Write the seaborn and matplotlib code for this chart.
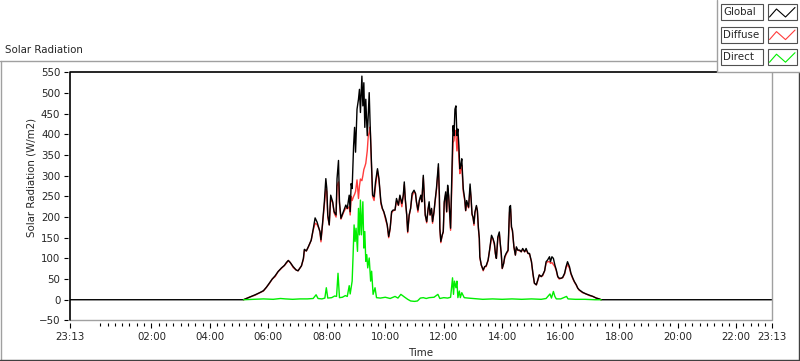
import numpy as np
import pandas as pd
import matplotlib
matplotlib.use("Agg")
import matplotlib.pyplot as plt
from matplotlib.lines import Line2D
from matplotlib.patches import Rectangle
import seaborn as sns

# time axis in minutes after midnight; window is 23:13 (day before) to 23:13
t_start, t_end = -47, 1393

times = [-47, 309, 313, 317, 323, 333, 344, 350, 356, 362, 368, 374, 380, 387, 393, 397,
         401, 405, 411, 417, 421, 428, 432, 434, 438, 442, 448, 452, 456, 460, 464, 466,
         468, 471, 475, 478, 480, 482, 485, 488, 492, 495, 499, 501, 504, 506, 509, 514,
         519, 522, 526, 528, 530, 532, 535, 537, 539, 542, 545, 547, 549, 552, 554, 556,
         558, 560, 563, 565, 567, 569, 572, 574, 577, 580, 584, 587, 591, 594, 597, 601,
         604, 607, 610, 613, 616, 620, 623, 627, 630, 634, 637, 639, 641, 644, 646, 649,
         652, 655, 659, 662, 664, 667, 670, 673, 675, 678, 680, 682, 685, 688, 690, 692,
         695, 697, 700, 702, 705, 709, 711, 712, 714, 717, 719, 721, 724, 726, 728, 730,
         732, 734, 737, 739, 741, 743, 745, 747, 749, 751, 753, 755, 757, 760, 763, 765,
         767, 771, 774, 776, 778, 780, 782, 784, 787, 789, 791, 793, 794, 797, 801, 804,
         807, 811, 814, 818, 821, 824, 826, 828, 831, 834, 836, 838, 840, 843, 845, 848,
         852, 855, 857, 859, 861, 864, 867, 869, 872, 876, 879, 882, 886, 889, 893, 896,
         900, 903, 906, 910, 913, 916, 920, 923, 927, 930, 933, 937, 939, 942, 945, 948,
         951, 954, 957, 961, 964, 968, 971, 974, 978, 981, 985, 988, 992, 995, 998, 1005,
         1012, 1019, 1026, 1033, 1039, 1043, 1393]

global_wm2 = [0, 0, 2, 4, 7, 12, 18, 22, 30, 40, 50, 58, 68, 77, 83, 90,
              95, 90, 80, 72, 70, 82, 100, 122, 118, 128, 144, 170, 198, 188, 172, 165,
              145, 181, 237, 293, 269, 205, 181, 253, 237, 213, 205, 293, 337, 237, 197, 213,
              229, 221, 253, 213, 281, 269, 373, 417, 357, 461, 485, 509, 453, 541, 469, 525,
              417, 485, 397, 445, 501, 421, 317, 253, 249, 285, 317, 293, 237, 221, 213, 197,
              181, 153, 173, 213, 217, 217, 245, 229, 253, 233, 253, 285, 245, 205, 165, 205,
              221, 257, 265, 257, 237, 217, 241, 253, 237, 301, 253, 205, 189, 221, 237, 205,
              221, 189, 213, 237, 269, 329, 253, 173, 141, 157, 165, 237, 261, 213, 277, 253,
              213, 173, 317, 421, 397, 461, 469, 397, 413, 373, 317, 325, 341, 269, 244, 216,
              240, 224, 280, 248, 208, 200, 184, 212, 228, 216, 176, 148, 104, 84, 72, 80,
              82, 96, 120, 156, 148, 136, 112, 100, 152, 164, 136, 112, 76, 88, 104, 112,
              120, 224, 228, 176, 168, 128, 108, 128, 120, 120, 116, 124, 116, 124, 112, 112,
              92, 64, 40, 36, 48, 60, 56, 60, 70, 92, 96, 104, 92, 104, 100, 84,
              72, 56, 52, 52, 54, 64, 80, 92, 80, 64, 52, 44, 36, 28, 24, 18,
              14, 11, 8, 4, 2, 0, 0]

diffuse_wm2 = [np.nan, 0, 2, 4, 7, 11, 18, 21, 30, 39, 50, 56, 68, 76, 83, 88,
               95, 90, 78, 72, 70, 82, 98, 120, 118, 127, 144, 168, 185, 182, 172, 163,
               140, 178, 230, 268, 262, 200, 181, 245, 235, 210, 200, 275, 285, 232, 195, 210,
               222, 220, 225, 205, 250, 240, 250, 255, 262, 290, 245, 275, 292, 288, 300, 315,
               322, 330, 360, 395, 405, 418, 312, 250, 240, 275, 312, 290, 232, 220, 212, 192,
               180, 150, 172, 210, 215, 217, 238, 228, 250, 225, 252, 278, 242, 205, 162, 203,
               221, 250, 262, 257, 235, 212, 240, 250, 237, 295, 250, 205, 186, 220, 230, 205,
               218, 185, 212, 235, 265, 320, 250, 170, 138, 157, 163, 233, 255, 212, 270, 250,
               210, 168, 300, 380, 385, 410, 400, 360, 400, 345, 305, 318, 325, 262, 240, 215,
               232, 222, 270, 245, 205, 200, 180, 210, 225, 215, 172, 148, 102, 84, 70, 80,
               80, 95, 118, 150, 147, 132, 110, 100, 148, 160, 135, 110, 75, 88, 100, 110,
               118, 212, 220, 175, 165, 127, 108, 125, 120, 118, 116, 122, 116, 120, 112, 110,
               92, 62, 40, 36, 46, 60, 56, 58, 70, 88, 92, 92, 88, 90, 85, 80,
               70, 55, 50, 52, 53, 62, 78, 85, 76, 62, 50, 43, 35, 28, 23, 17,
               14, 10, 8, 4, 2, 0, np.nan]

direct_times = [309, 330, 350, 370, 385, 395, 410, 425, 440, 452, 458, 462, 470, 476, 479, 482,
                490, 496, 500, 503, 506, 512, 518, 522, 526, 528, 532, 534, 536, 538, 540, 543,
                545, 547, 549, 551, 554, 556, 558, 560, 562, 564, 567, 570, 572, 575, 579, 582,
                590, 600, 610, 620, 626, 632, 640, 646, 652, 660, 666, 672, 678, 684, 690, 700,
                708, 712, 720, 728, 734, 736, 738, 740, 742, 745, 747, 749, 752, 754, 757, 762,
                770, 780, 790, 800, 820, 840, 860, 880, 900, 920, 930, 938, 941, 945, 948, 951,
                960, 972, 975, 990, 1010, 1030, 1043]

direct_wm2 = [0, 1, 2, 1, 3, 2, 1, 2, 2, 3, 12, 3, 2, 4, 29, 4,
              5, 9, 8, 64, 5, 6, 10, 8, 34, 14, 45, 109, 181, 141, 173, 117,
              221, 157, 241, 157, 237, 125, 165, 93, 109, 77, 101, 45, 69, 13, 29, 5,
              4, 6, 3, 8, 4, 13, 6, 1, -3, -4, -3, 4, 5, 3, 5, 6,
              13, 3, 5, 4, 6, 29, 53, 13, 45, 29, 45, 5, 21, 5, 17, 5,
              4, 3, 2, 1, 2, 1, 2, 1, 2, 1, 3, 14, 4, 20, 8, 2,
              2, 8, 2, 1, 1, 0, 0]

tick_minutes = [-47, 120, 240, 360, 480, 600, 720, 840, 960, 1080, 1200, 1320, 1393]
tick_labels = ["23:13", "02:00", "04:00", "06:00", "08:00", "10:00", "12:00",
               "14:00", "16:00", "18:00", "20:00", "22:00", "23:13"]
y_ticks = list(range(-50, 551, 50))

series_names = ["Global", "Diffuse", "Direct"]
series_colors = ["#000000", "#ff3c3c", "#00ee00"]

sns.set_theme(style="white")
plt.rcParams['font.family'] = ['DejaVu Sans']
FS = 7.4

W, H = 800, 361
fig = plt.figure(figsize=(W / 100, H / 100), dpi=100)
fig.patch.set_facecolor("white")


def fx(px):
    return px / W


def fy(py):
    return 1 - py / H


ax_l, ax_r, ax_t, ax_b = 70, 771.7, 72.4, 320.4
ax = fig.add_axes([fx(ax_l), fy(ax_b), (ax_r - ax_l) / W, (ax_b - ax_t) / H])
ax.set_facecolor("white")

df = pd.DataFrame({"minute": times, "Global": global_wm2, "Diffuse": diffuse_wm2})
df_direct = pd.DataFrame({"minute": direct_times, "Direct": direct_wm2})

sns.lineplot(data=df.dropna(subset=["Diffuse"]), x="minute", y="Diffuse", estimator=None,
             color=series_colors[1], lw=1.0, ax=ax)
sns.lineplot(data=df, x="minute", y="Global", estimator=None,
             color=series_colors[0], lw=1.0, ax=ax)
sns.lineplot(data=df_direct, x="minute", y="Direct", estimator=None,
             color=series_colors[2], lw=1.0, ax=ax)

ax.set_xlim(t_start, t_end)
ax.set_ylim(-50, 550)

# LabVIEW style frame: ticks sit slightly off the plot border
for s in ax.spines.values():
    s.set_visible(False)
ax.spines['left'].set_position(('outward', 1.5))
ax.spines['bottom'].set_position(('outward', 2.2))
ax.plot([0, 1, 1], [0, 0, 1], transform=ax.transAxes, color="#a0a0a0", lw=1.0, clip_on=False)
ax.plot([0, 0, 1], [0, 1, 1], transform=ax.transAxes, color="black", lw=1.2, clip_on=False)

ax.set_yticks(y_ticks)
ax.set_xticks(tick_minutes)
ax.set_xticklabels(tick_labels)
minor = [m for m in range(0, t_end, 15) if m % 120 != 0 and m - t_start > 3]
ax.set_xticks(minor, minor=True)
ax.tick_params(axis='y', which='major', direction='out', length=3, width=0.8,
               color='black', labelsize=FS, pad=2.5, left=True)
ax.tick_params(axis='x', which='major', direction='out', length=3.6, width=0.8,
               color='black', labelsize=FS, pad=2.5, bottom=True)
ax.tick_params(axis='x', which='minor', direction='out', length=2.2, width=0.8,
               color='black', bottom=True)

ax.set_xlabel("Time", fontsize=FS)
ax.xaxis.label.set_va('center')
ax.xaxis.set_label_coords(0.5, (ax_b - 353) / (ax_b - ax_t))
ax.set_ylabel("Solar Radiation (W/m2)", fontsize=FS)
ax.yaxis.label.set_va('center')
ax.yaxis.set_label_coords((32 - ax_l) / (ax_r - ax_l), (ax_b - 177) / (ax_b - ax_t))

# outer panel and caption
fig.text(fx(5), fy(50), "Solar Radiation", fontsize=FS, ha='left', va='center')
fig.add_artist(Line2D([fx(0), fx(717)], [fy(61), fy(61)], color="#a0a0a0", lw=1.0))
fig.add_artist(Line2D([fx(0.5), fx(0.5)], [fy(61), fy(360)], color="#a0a0a0", lw=1.0))
fig.add_artist(Line2D([fx(0), fx(798.5)], [fy(360), fy(360)], color="#404040", lw=1.0))
fig.add_artist(Line2D([fx(798.5), fx(798.5)], [fy(72), fy(360)], color="#404040", lw=1.0))

# plot legend panel in the top right corner
fig.add_artist(Rectangle((fx(717), fy(72)), (800 - 717) / W, 72 / H, transform=fig.transFigure,
                         facecolor="white", edgecolor="none", zorder=5))
fig.add_artist(Line2D([fx(717), fx(717), fx(800)], [fy(0), fy(72), fy(72)],
                      color="#a0a0a0", lw=1.0, zorder=6))
for i, (name, col) in enumerate(zip(series_names, series_colors)):
    y0 = 4 + i * 22.6
    fig.add_artist(Rectangle((fx(720.7), fy(y0 + 16)), 42.6 / W, 16 / H, transform=fig.transFigure,
                             facecolor="white", edgecolor="#505050", lw=0.8, zorder=6))
    fig.add_artist(Rectangle((fx(767.7), fy(y0 + 16)), 29 / W, 16 / H, transform=fig.transFigure,
                             facecolor="white", edgecolor="#505050", lw=0.8, zorder=6))
    fig.text(fx(723), fy(y0 + 8.3), name, fontsize=FS, ha='left', va='center', zorder=7)
    fig.add_artist(Line2D([fx(769.5), fx(776.5), fx(785.5), fx(795)],
                          [fy(y0 + 13), fy(y0 + 5), fy(y0 + 13), fy(y0 + 3.5)],
                          color=col, lw=0.8, zorder=7))

fig.savefig("out.png", dpi=100)
